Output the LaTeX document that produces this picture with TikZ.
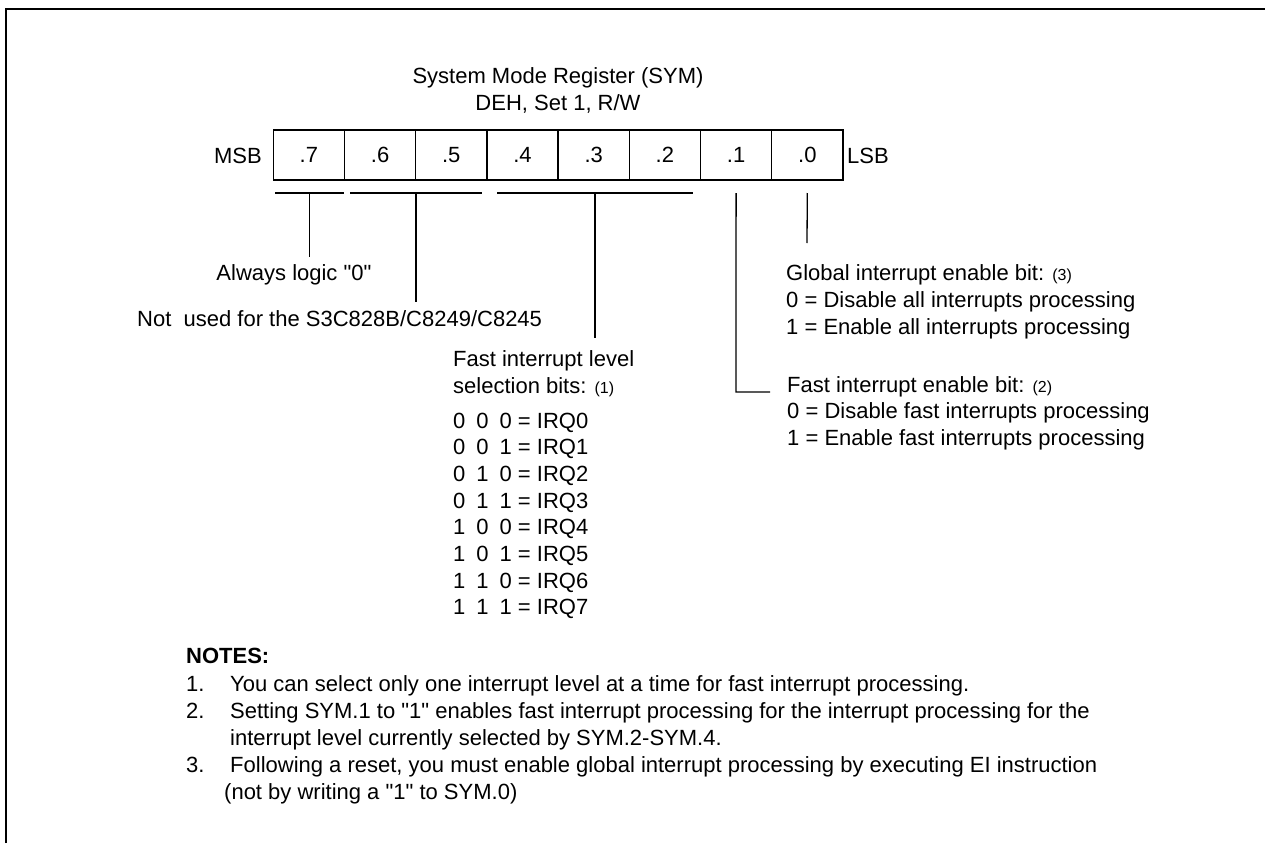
\documentclass[tikz,border=0pt]{standalone}
\usepackage{fontspec}
\setmainfont{Liberation Sans}[Ligatures=TeXOff]
\usetikzlibrary{calc}
\newcommand{\smallnum}[1]{{\fontsize{16}{16}\selectfont #1}}
\newcommand{\irqrow}[4]{#1\hspace{11pt}#2\hspace{11pt}#3 = IRQ#4}
\begin{document}
\begin{tikzpicture}[x=1pt,y=-1pt,
  txt/.style={font=\fontsize{22}{26}\selectfont, inner sep=0pt, anchor=base west},
  ctxt/.style={font=\fontsize{22}{26}\selectfont, inner sep=0pt, anchor=base},
  cell/.style={draw, line width=1.3pt, minimum width=71.2pt, minimum height=50pt, inner sep=0pt, font=\fontsize{22}{26}\selectfont},
  ln/.style={line width=1.3pt},
  frame/.style={line width=2pt}]
\useasboundingbox (0,0) rectangle (1265,843);
% frame
\draw[frame] (6,843) -- (6,9) -- (1265,9);
% title
\node[ctxt] (t1) at (558,83) {System Mode Register (SYM)};
\node[ctxt] (t2) at (558,110) {DEH, Set 1, R/W};
% register cells
\node[cell] (b7) at (308.9,155) {.7};
\node[cell] (b6) at (380.1,155) {.6};
\node[cell] (b5) at (451.3,155) {.5};
\node[cell] (b4) at (522.5,155) {.4};
\node[cell] (b3) at (593.7,155) {.3};
\node[cell] (b2) at (664.9,155) {.2};
\node[cell] (b1) at (736.1,155) {.1};
\node[cell] (b0) at (807.3,155) {.0};
\node[txt, anchor=base east] (msb) at (262,163) {MSB};
\node[txt] (lsb) at (847,163) {LSB};
% brackets
\coordinate (k7a) at (275,193); \coordinate (k7b) at (344,193);
\coordinate (k65a) at (350,193); \coordinate (k65b) at (482,193);
\coordinate (k42a) at (497,193); \coordinate (k42b) at (693,193);
\draw[ln] (k7a) -- (k7b);
\draw[ln] (k65a) -- (k65b);
\draw[ln] (k42a) -- (k42b);
% labels
\node[ctxt] (always) at (294,280) {Always logic "0"};
\node[txt] (notused) at (137,326) {Not\ \ used for the S3C828B/C8249/C8245};
\node[txt] (fil1) at (453,366) {Fast interrupt level};
\node[txt] (fil2) at (453,393) {selection bits: \smallnum{(1)}};
\node[txt] (irq0) at (453,428) {\irqrow{0}{0}{0}{0}};
\node[txt] (irq1) at (453,454.7) {\irqrow{0}{0}{1}{1}};
\node[txt] (irq2) at (453,481.3) {\irqrow{0}{1}{0}{2}};
\node[txt] (irq3) at (453,508) {\irqrow{0}{1}{1}{3}};
\node[txt] (irq4) at (453,534.7) {\irqrow{1}{0}{0}{4}};
\node[txt] (irq5) at (453,561.3) {\irqrow{1}{0}{1}{5}};
\node[txt] (irq6) at (453,588) {\irqrow{1}{1}{0}{6}};
\node[txt] (irq7) at (453,614.7) {\irqrow{1}{1}{1}{7}};
\node[txt] (g1) at (786,280) {Global interrupt enable bit: \smallnum{(3)}};
\node[txt] (g2) at (786,307) {0 = Disable all interrupts processing};
\node[txt] (g3) at (786,334) {1 = Enable all interrupts processing};
\node[txt] (f1) at (787,392) {Fast interrupt enable bit: \smallnum{(2)}};
\node[txt] (f2) at (787,418.7) {0 = Disable fast interrupts processing};
\node[txt] (f3) at (787,445.3) {1 = Enable fast interrupts processing};
% leader lines
\coordinate (e7) at (309.5,257);
\coordinate (e65) at (416,302);
\coordinate (e42) at (595,338);
\coordinate (e0) at (807,243);
\coordinate (c1) at (736,392);
\coordinate (e1) at (770,392);
\draw[ln] ($(k7a)!0.5!(k7b)$) -- (e7);
\draw[ln] ($(k65a)!0.5!(k65b)$) -- (e65);
\draw[ln] ($(k42a)!0.5!(k42b)$) -- (e42);
\draw[ln] (b0.south |- 0,193) -- (e0);
\draw[ln] (b1.south |- 0,193) -- (c1) -- (e1);
% notes
\node[txt] (nh) at (186,663) {\bfseries NOTES:};
\node[txt] (n1n) at (186,691) {1.};
\node[txt] (n1) at (230,691) {You can select only one interrupt level at a time for fast interrupt processing.};
\node[txt] (n2n) at (186,718) {2.};
\node[txt] (n2) at (230,718) {Setting SYM.1 to "1" enables fast interrupt processing for the interrupt processing for the};
\node[txt] (n2b) at (230,745) {interrupt level currently selected by SYM.2-SYM.4.};
\node[txt] (n3n) at (186,772) {3.};
\node[txt] (n3) at (230,772) {Following a reset, you must enable global interrupt processing by executing EI instruction};
\node[txt] (n3b) at (224,799) {(not by writing a "1" to SYM.0)};
\end{tikzpicture}
\end{document}
